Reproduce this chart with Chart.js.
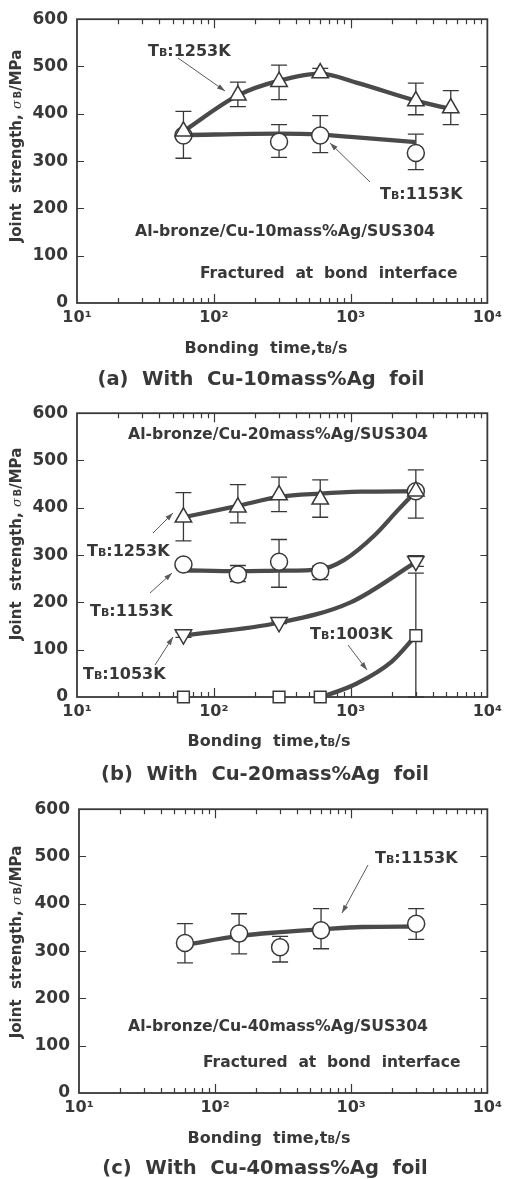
<!DOCTYPE html>
<html><head><meta charset="utf-8">
<script src="https://cdn.jsdelivr.net/npm/chart.js@4.4.1/dist/chart.umd.min.js"></script>
<style>
html,body{margin:0;padding:0;background:#fff;}
body{width:507px;height:1179px;position:relative;overflow:hidden;}
canvas{position:absolute;left:0;}
</style></head><body>
<canvas id="panelA" width="507" height="394" style="top:0px"></canvas>
<canvas id="panelB" width="507" height="396" style="top:394px"></canvas>
<canvas id="panelC" width="507" height="389" style="top:790px"></canvas>
<script>
// ---------------- data ----------------
const xMajorTicks = [10, 100, 1000, 10000];
const xTickLabels = ['10¹', '10²', '10³', '10⁴'];
const yMin = 0, yMax = 600, yStep = 100;

// (a) Cu-10mass%Ag foil
const aTimes1253 = [60, 150, 300, 600, 3000, 5400];
const aStrength1253 = [363, 439, 468, 486, 427, 412];
const aErrHi1253 = [null, 467, 503, 496, 465, 449];
const aErrLo1253 = [null, 415, 430, 478, 398, 377];
const aTimes1153 = [60, 300, 600, 3000];
const aStrength1153 = [354, 341, 354, 317];
const aErrHi1153 = [405, 377, 396, 357];
const aErrLo1153 = [306, 308, 318, 282];
const aFitTimes1253 = [60, 150, 300, 600, 1100, 3000, 5400];
const aFit1253 = [363, 439, 470, 485, 466, 428, 410];
const aFitTimes1153 = [60, 300, 600, 1000, 3000];
const aFit1153 = [355, 358, 356, 351, 340];

// (b) Cu-20mass%Ag foil
const bTimes1253 = [60, 150, 300, 600, 3000];
const bStrength1253 = [380, 401, 427, 418, 435];
const bErrHi1253 = [432, 449, 465, 459, 480];
const bErrLo1253 = [330, 368, 392, 380, 378];
const bTimes1153 = [60, 150, 300, 600, 3000];
const bStrength1153 = [280, 259, 286, 266, 435];
const bErrHi1153 = [286, 278, 333, 277, null];
const bErrLo1153 = [274, 244, 232, 248, null];
const bTimes1053 = [60, 300, 3000];
const bStrength1053 = [132, 158, 287];
const bErrHi1053 = [137, 161, 299];
const bErrLo1053 = [126, 155, 276];
const bTimes1003 = [60, 300, 600, 3000];
const bStrength1003 = [0, 0, 0, 130];
const bErrHi1003 = [null, null, null, 262];
const bErrLo1003 = [null, null, null, 0];
const bFitTimes1253 = [60, 150, 300, 600, 1200, 3000];
const bFit1253 = [380, 404, 423, 430, 434, 435];
const bFitTimes1153 = [60, 150, 300, 600, 900, 1500, 2200, 3000];
const bFit1153 = [268, 266, 267, 270, 290, 342, 394, 435];
const bFitTimes1053 = [60, 300, 1000, 3000];
const bFit1053 = [130, 157, 200, 285];
const bFitTimes1003 = [620, 1100, 2000, 3000];
const bFit1003 = [0, 28, 75, 130];

// (c) Cu-40mass%Ag foil
const cTimes1153 = [60, 150, 300, 600, 3000];
const cStrength1153 = [317, 337, 308, 344, 358];
const cErrHi1153 = [358, 379, 331, 390, 390];
const cErrLo1153 = [275, 294, 277, 305, 325];
const cFitTimes1153 = [60, 150, 300, 600, 1200, 3000];
const cFit1153 = [313, 332, 340, 346, 351, 352];

// ---------------- style ----------------
const FONT = 'DejaVu Sans';
const INK = '#383838';
const CURVE = '#4a4a4a';

function pts(times, vals) { return times.map((t, i) => ({ x: t, y: vals[i] })); }

function markers(times, vals, style, radius, rotation, hi, lo) {
  return {
    data: pts(times, vals), showLine: false, pointStyle: style, pointRadius: radius,
    pointHoverRadius: radius, pointRotation: rotation, pointBackgroundColor: '#fff',
    pointBorderColor: INK, pointBorderWidth: 1.5, errHi: hi, errLo: lo, order: 0, clip: false
  };
}
function fitCurve(times, vals) {
  return {
    data: pts(times, vals), showLine: true, pointRadius: 0, pointHoverRadius: 0,
    borderColor: CURVE, borderWidth: 4.3, cubicInterpolationMode: 'monotone',
    fill: false, order: 1
  };
}

function fontOf(p) {
  const size = p[1], style = p[2] || 'bold', fam = p[4] || FONT;
  if (style === 'italic') return 'italic ' + size + 'px "' + fam + '"';
  return style + ' ' + size + 'px "' + fam + '"';
}
function rich(ctx, x, y, parts, align) {
  let w = 0;
  const ws = parts.map(p => { ctx.font = fontOf(p); const m = ctx.measureText(p[0]).width; w += m; return m; });
  let cx = align === 'center' ? x - w / 2 : (align === 'right' ? x - w : x);
  ctx.textAlign = 'left';
  ctx.textBaseline = 'alphabetic';
  parts.forEach((p, i) => { ctx.font = fontOf(p); ctx.fillText(p[0], cx, y + (p[3] || 0)); cx += ws[i]; });
}
function tb(temp) { return [['T', 16], ['B', 11], [':' + temp + 'K', 16]]; }

function arrow(ctx, x1, y1, x2, y2) {
  ctx.save();
  ctx.strokeStyle = '#5a5a5a'; ctx.fillStyle = '#5a5a5a'; ctx.lineWidth = 1;
  ctx.beginPath(); ctx.moveTo(x1, y1); ctx.lineTo(x2, y2); ctx.stroke();
  const a = Math.atan2(y2 - y1, x2 - x1), L = 8, W = 2.6;
  ctx.beginPath();
  ctx.moveTo(x2, y2);
  ctx.lineTo(x2 - L * Math.cos(a) + W * Math.sin(a), y2 - L * Math.sin(a) - W * Math.cos(a));
  ctx.lineTo(x2 - L * Math.cos(a) - W * Math.sin(a), y2 - L * Math.sin(a) + W * Math.cos(a));
  ctx.closePath(); ctx.fill();
  ctx.restore();
}

const xAllTicks = [];
for (let d = 10; d < 10000; d *= 10) for (let k = 1; k < 10; k++) xAllTicks.push(k * d);
xAllTicks.push(10000);

function makeNotes(cfg) {
  return {
    id: 'notes',
    beforeDatasetsDraw(chart) {
      const ctx = chart.ctx, a = chart.chartArea, xs = chart.scales.x, ys = chart.scales.y;
      ctx.save();
      ctx.strokeStyle = INK; ctx.lineWidth = 1.2;
      ctx.beginPath();
      xAllTicks.forEach(v => {
        if (v <= 10 || v >= 10000) return;
        const px = Math.round(xs.getPixelForValue(v)) + 0.5;
        const len = xMajorTicks.includes(v) ? 9 : 5;
        ctx.moveTo(px, a.bottom); ctx.lineTo(px, a.bottom - len);
        ctx.moveTo(px, a.top); ctx.lineTo(px, a.top + len);
      });
      for (let v = yMin + yStep; v < yMax; v += yStep) {
        const py = Math.round(ys.getPixelForValue(v)) + 0.5;
        ctx.moveTo(a.left, py); ctx.lineTo(a.left + 7, py);
        ctx.moveTo(a.right, py); ctx.lineTo(a.right - 7, py);
      }
      ctx.stroke();
      ctx.lineWidth = 1.8;
      ctx.strokeRect(a.left, a.top, a.right - a.left, a.bottom - a.top);
      // error bars
      ctx.lineWidth = 1.3; ctx.strokeStyle = INK;
      chart.data.datasets.forEach(ds => {
        if (!ds.errHi) return;
        ds.data.forEach((p, i) => {
          const px = xs.getPixelForValue(p.x), py = ys.getPixelForValue(p.y);
          [ds.errHi[i], ds.errLo[i]].forEach(e => {
            if (e === null || e === undefined) return;
            const ey = ys.getPixelForValue(e);
            ctx.beginPath();
            ctx.moveTo(px, py); ctx.lineTo(px, ey);
            ctx.moveTo(px - 8, ey); ctx.lineTo(px + 8, ey);
            ctx.stroke();
          });
        });
      });
      ctx.restore();
    },
    afterDraw(chart) {
      const ctx = chart.ctx;
      ctx.save();
      ctx.fillStyle = INK;
      cfg.labels.forEach(l => rich(ctx, l.x, l.y, l.parts, l.align || 'left'));
      cfg.arrows.forEach(r => arrow(ctx, r[0], r[1], r[2], r[3]));
      // x axis title
      rich(ctx, cfg.xTitle[0], cfg.xTitle[1],
        [['Bonding  time,t', 16], ['B', 10], ['/s', 16]], 'center');
      // caption
      rich(ctx, cfg.caption[0], cfg.caption[1], [[cfg.captionText, 19.5]], 'center');
      // y axis title (rotated)
      ctx.translate(cfg.yTitle[0], cfg.yTitle[1]);
      ctx.rotate(-Math.PI / 2);
      rich(ctx, 0, 6, [['Joint  strength, ', 15], ['σ', 13, 'italic', 0, 'DejaVu Serif'],
        [' ', 5], ['B', 10], ['/MPa', 15]], 'center');
      ctx.restore();
    }
  };
}

function makeChart(id, datasets, cfg) {
  new Chart(document.getElementById(id), {
    type: 'line',
    data: { datasets },
    options: {
      responsive: false, animation: false, events: [],
      layout: { padding: { top: 13, right: 507 - cfg.right, left: 0, bottom: 0 } },
      plugins: { legend: { display: false }, tooltip: { enabled: false } },
      scales: {
        x: {
          type: 'logarithmic', min: 10, max: 10000,
          afterBuildTicks: s => { s.ticks = xAllTicks.map(v => ({ value: v })); },
          afterFit: s => { s.height = cfg.h - 303; },
          grid: { display: false, drawTicks: false }, border: { display: false },
          ticks: {
            autoSkip: false, maxRotation: 0, padding: 5, color: INK,
            font: { family: FONT, weight: 'bold', size: 16 },
            callback: v => { const k = xMajorTicks.indexOf(v); return k >= 0 ? xTickLabels[k] : ''; }
          }
        },
        y: {
          min: yMin, max: yMax,
          afterFit: s => { s.width = cfg.left; },
          grid: { display: false, drawTicks: false }, border: { display: false },
          ticks: { stepSize: yStep, padding: 9, color: INK, font: { family: FONT, weight: 'bold', size: 17 } }
        }
      }
    },
    plugins: [makeNotes(cfg)]
  });
}

// ---------------- panels ----------------
makeChart('panelA', [
  markers(aTimes1253, aStrength1253, 'triangle', 9.5, 0, aErrHi1253, aErrLo1253),
  markers(aTimes1153, aStrength1153, 'circle', 8.5, 0, aErrHi1153, aErrLo1153),
  fitCurve(aFitTimes1253, aFit1253),
  fitCurve(aFitTimes1153, aFit1153)
], {
  left: 77, right: 490, h: 394,
  labels: [
    { x: 148, y: 56, parts: tb('1253') },
    { x: 380, y: 199, parts: tb('1153') },
    { x: 135, y: 236, parts: [['Al-bronze/Cu-10mass%Ag/SUS304', 15.7]] },
    { x: 200, y: 278, parts: [['Fractured  at  bond  interface', 15.5]] }
  ],
  arrows: [[178, 58, 225, 91], [370, 182, 330, 143]],
  xTitle: [266, 353], caption: [261, 385], captionText: '(a)  With  Cu-10mass%Ag  foil',
  yTitle: [15, 146]
});

makeChart('panelB', [
  markers(bTimes1253, bStrength1253, 'triangle', 9.5, 0, bErrHi1253, bErrLo1253),
  markers(bTimes1153, bStrength1153, 'circle', 8.5, 0, bErrHi1153, bErrLo1153),
  markers(bTimes1053, bStrength1053, 'triangle', 9.5, 180, bErrHi1053, bErrLo1053),
  markers(bTimes1003, bStrength1003, 'rect', 8.3, 0, bErrHi1003, bErrLo1003),
  fitCurve(bFitTimes1253, bFit1253),
  fitCurve(bFitTimes1153, bFit1153),
  fitCurve(bFitTimes1053, bFit1053),
  fitCurve(bFitTimes1003, bFit1003)
], {
  left: 77, right: 492, h: 396,
  labels: [
    { x: 128, y: 45, parts: [['Al-bronze/Cu-20mass%Ag/SUS304', 15.7]] },
    { x: 87, y: 162, parts: tb('1253') },
    { x: 90, y: 222, parts: tb('1153') },
    { x: 83, y: 285, parts: tb('1053') },
    { x: 310, y: 245, parts: tb('1003') }
  ],
  arrows: [[153, 139, 173, 119], [150, 199, 172, 179], [155, 271, 173, 243], [348, 251, 367, 276]],
  xTitle: [269, 352], caption: [265, 386], captionText: '(b)  With  Cu-20mass%Ag  foil',
  yTitle: [15, 150]
});

makeChart('panelC', [
  markers(cTimes1153, cStrength1153, 'circle', 8.5, 0, cErrHi1153, cErrLo1153),
  fitCurve(cFitTimes1153, cFit1153)
], {
  left: 79, right: 493, h: 389,
  labels: [
    { x: 375, y: 73, parts: tb('1153') },
    { x: 128, y: 241, parts: [['Al-bronze/Cu-40mass%Ag/SUS304', 15.7]] },
    { x: 203, y: 277, parts: [['Fractured  at  bond  interface', 15.5]] }
  ],
  arrows: [[368, 75, 342, 123]],
  xTitle: [269, 353], caption: [265, 384], captionText: '(c)  With  Cu-40mass%Ag  foil',
  yTitle: [15, 152]
});
</script>
</body></html>
